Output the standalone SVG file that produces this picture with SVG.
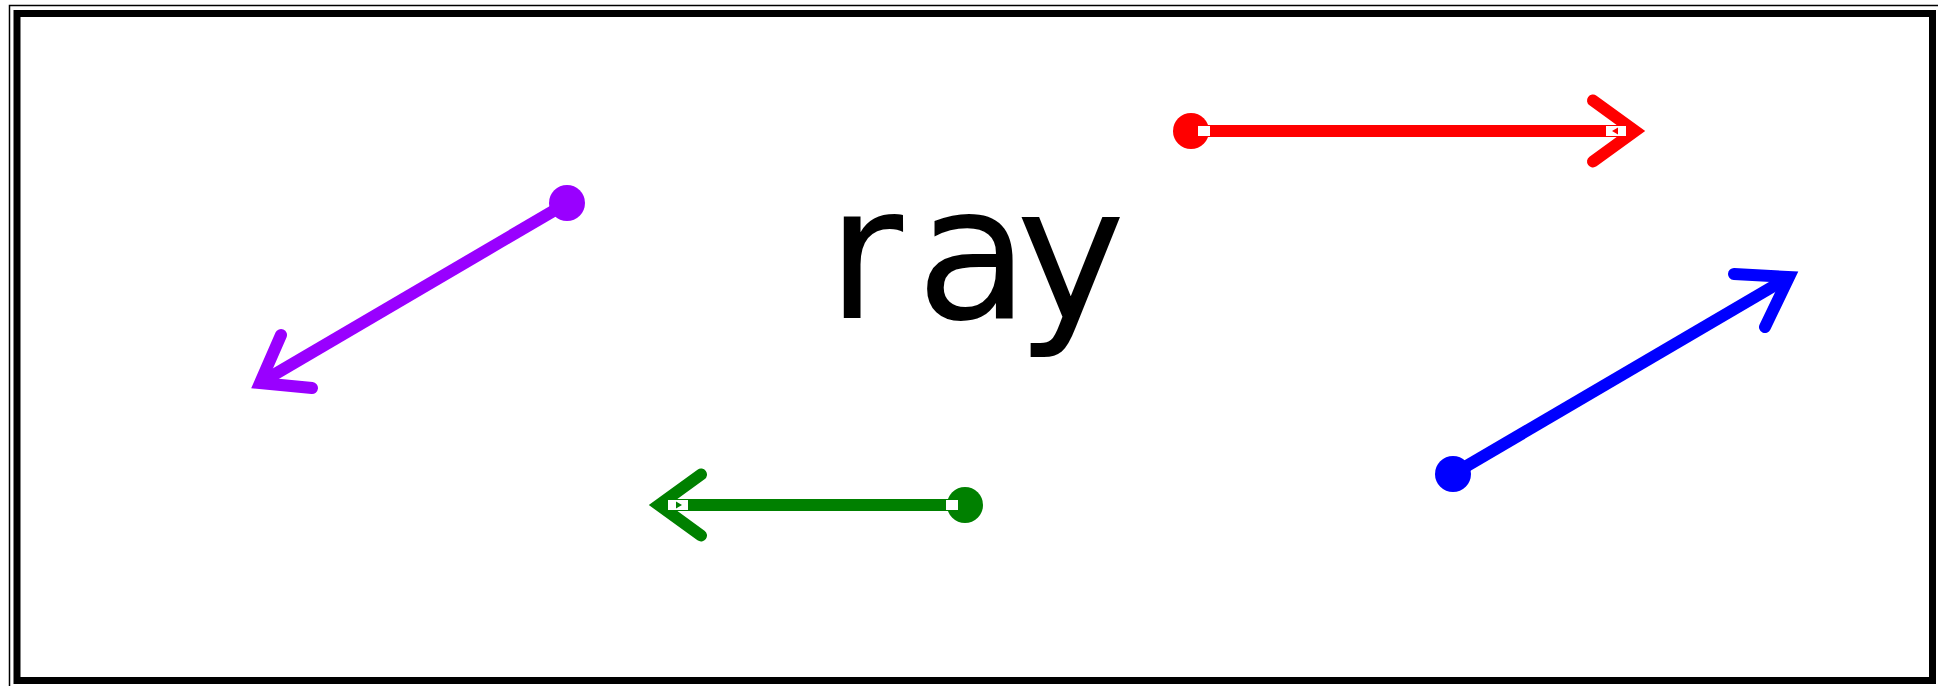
<svg xmlns="http://www.w3.org/2000/svg" width="1938" height="686" viewBox="0 0 1938 686">
<style>
.shaft{fill:none;stroke-width:12;stroke-linecap:butt}
.head{fill:none;stroke-width:12;stroke-linecap:round;stroke-linejoin:miter;stroke-miterlimit:10}
.gap{fill:#fff;stroke:none}
.dot{stroke:none}
</style>
<rect x="0" y="0" width="1938" height="686" fill="#fff"/>
<rect x="9.5" y="5.5" width="1940" height="700" fill="none" stroke="#000" stroke-width="1.5"/>
<rect x="17" y="13.5" width="1915.5" height="667" fill="none" stroke="#000" stroke-width="7"/>
<g id="label"><text x="827 916 1016" y="318" font-family="'DejaVu Sans', sans-serif" font-size="185" fill="#000">ray</text></g>
<g id="connectors">
<g id="ray-red" stroke="#ff0000" fill="#ff0000">
<line class="shaft" x1="1191" y1="131" x2="1630" y2="131"/>
<polyline class="head" points="1593,100.5 1635,131 1593,161.5"/>
<circle class="dot" cx="1191" cy="131" r="18"/>
<rect class="gap" x="1198" y="126" width="12" height="10"/>
<rect class="gap" x="1606" y="126" width="20" height="10"/>
<polygon class="dot" points="1612,131 1618,127.5 1618,134.5"/>
</g>
<g id="ray-purple" stroke="#9900ff" fill="#9900ff">
<line class="shaft" x1="567" y1="203" x2="265" y2="380"/>
<polyline class="head" points="281,335 260,383 312,388"/>
<circle class="dot" cx="567" cy="203" r="18"/>
</g>
<g id="ray-green" stroke="#008000" fill="#008000">
<line class="shaft" x1="965" y1="505" x2="664" y2="505"/>
<polyline class="head" points="701,474.5 659,505 701,535.5"/>
<circle class="dot" cx="965" cy="505" r="18"/>
<rect class="gap" x="946" y="500" width="12" height="10"/>
<rect class="gap" x="668" y="500" width="20" height="10"/>
<polygon class="dot" points="682,505 676,501.5 676,508.5"/>
</g>
<g id="ray-blue" stroke="#0000ff" fill="#0000ff">
<line class="shaft" x1="1453" y1="474" x2="1784" y2="280"/>
<polyline class="head" points="1734,274 1789,277 1765,327"/>
<circle class="dot" cx="1453" cy="474" r="18"/>
</g>
</g>
</svg>
